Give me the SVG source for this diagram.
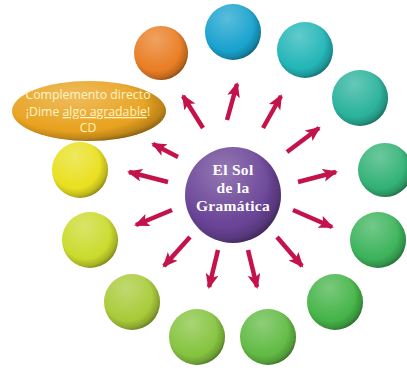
<svg xmlns="http://www.w3.org/2000/svg" width="407" height="368" viewBox="0 0 407 368">
<style>
.shade{fill:url(#shade)}
.hl{fill:url(#hl)}
.arr{stroke:#c4124b;stroke-width:4.5;fill:none;marker-end:url(#ah)}
.et{font-family:"Open Sans","Liberation Sans",sans-serif;font-size:12.3px;fill:#fff4c4;text-anchor:middle}
.ct{font-family:"Liberation Serif","DejaVu Serif",serif;font-weight:bold;font-size:15.5px;letter-spacing:0.3px;fill:#ffffff;text-anchor:middle}
</style>
<defs>
<radialGradient id="shade" cx="0.42" cy="0.4" r="0.62">
<stop offset="0.7" stop-color="#000" stop-opacity="0"/>
<stop offset="0.9" stop-color="#000" stop-opacity="0.18"/>
<stop offset="1" stop-color="#000" stop-opacity="0.38"/>
</radialGradient>
<radialGradient id="hl" cx="0.4" cy="0.25" r="0.55">
<stop offset="0" stop-color="#fff" stop-opacity="0.28"/>
<stop offset="1" stop-color="#fff" stop-opacity="0"/>
</radialGradient>
<marker id="ah" markerUnits="userSpaceOnUse" markerWidth="18" markerHeight="14" refX="13" refY="6.5" orient="auto">
<path d="M0,0 L15,6.5 L0,13 L3.5,6.5 Z" fill="#c4124b"/>
</marker>
</defs>
<g id="connectors">
<line class="arr" x1="203" y1="128" x2="183" y2="96"/>
<line class="arr" x1="227" y1="120" x2="237" y2="84"/>
<line class="arr" x1="263" y1="128" x2="281" y2="96"/>
<line class="arr" x1="287" y1="152" x2="319" y2="128"/>
<line class="arr" x1="298" y1="182" x2="336" y2="172"/>
<line class="arr" x1="293" y1="210" x2="332" y2="227"/>
<line class="arr" x1="277" y1="237" x2="302" y2="266"/>
<line class="arr" x1="248" y1="250" x2="257" y2="287"/>
<line class="arr" x1="218" y1="250" x2="209" y2="287"/>
<line class="arr" x1="190" y1="237" x2="164" y2="266"/>
<line class="arr" x1="172" y1="210" x2="136" y2="225"/>
<line class="arr" x1="168" y1="182" x2="129" y2="172"/>
<line class="arr" x1="178" y1="157" x2="153" y2="144"/>
</g>
<g id="n-orange"><circle cx="161" cy="53" r="27" fill="#e97e24"/><circle cx="161" cy="53" r="27" class="hl"/><circle cx="161" cy="53" r="27" class="shade"/></g>
<g id="n-blue"><circle cx="233" cy="32" r="28" fill="#1aa3cf"/><circle cx="233" cy="32" r="28" class="hl"/><circle cx="233" cy="32" r="28" class="shade"/></g>
<g id="n-teal1"><circle cx="305" cy="50" r="28" fill="#24b6b8"/><circle cx="305" cy="50" r="28" class="hl"/><circle cx="305" cy="50" r="28" class="shade"/></g>
<g id="n-teal2"><circle cx="360" cy="98" r="28" fill="#2bb39c"/><circle cx="360" cy="98" r="28" class="hl"/><circle cx="360" cy="98" r="28" class="shade"/></g>
<g id="n-green1"><circle cx="385" cy="170" r="27" fill="#34b377"/><circle cx="385" cy="170" r="27" class="hl"/><circle cx="385" cy="170" r="27" class="shade"/></g>
<g id="n-green2"><circle cx="378" cy="240" r="28" fill="#3db45c"/><circle cx="378" cy="240" r="28" class="hl"/><circle cx="378" cy="240" r="28" class="shade"/></g>
<g id="n-green3"><circle cx="335" cy="302" r="28" fill="#46b549"/><circle cx="335" cy="302" r="28" class="hl"/><circle cx="335" cy="302" r="28" class="shade"/></g>
<g id="n-green4"><circle cx="268" cy="337" r="28" fill="#62bb45"/><circle cx="268" cy="337" r="28" class="hl"/><circle cx="268" cy="337" r="28" class="shade"/></g>
<g id="n-green5"><circle cx="197" cy="337" r="28" fill="#86c440"/><circle cx="197" cy="337" r="28" class="hl"/><circle cx="197" cy="337" r="28" class="shade"/></g>
<g id="n-lime1"><circle cx="132" cy="302" r="28" fill="#a9cb3a"/><circle cx="132" cy="302" r="28" class="hl"/><circle cx="132" cy="302" r="28" class="shade"/></g>
<g id="n-lime2"><circle cx="90" cy="240" r="28" fill="#cbdb2e"/><circle cx="90" cy="240" r="28" class="hl"/><circle cx="90" cy="240" r="28" class="shade"/></g>
<g id="n-yellow"><circle cx="80" cy="170" r="28" fill="#e9e020"/><circle cx="80" cy="170" r="28" class="hl"/><circle cx="80" cy="170" r="28" class="shade"/></g>
<g id="n-cd">
<ellipse cx="89" cy="111" rx="77" ry="30" fill="#e8a21f"/>
<ellipse cx="89" cy="111" rx="77" ry="30" class="hl"/>
<ellipse cx="89" cy="111" rx="77" ry="30" class="shade"/>
<text class="et" x="88" y="99">Complemento directo</text>
<text class="et" x="88" y="116">¡Dime <tspan text-decoration="underline">algo agradable</tspan>!</text>
<text class="et" x="88" y="132">CD</text>
</g>
<g id="n-sol">
<circle cx="233" cy="195" r="48" fill="#6a4497"/>
<circle cx="233" cy="195" r="48" class="hl"/>
<circle cx="233" cy="195" r="48" class="shade"/>
<text class="ct" x="233" y="175">El Sol</text>
<text class="ct" x="233" y="193">de la</text>
<text class="ct" x="233" y="211">Gramática</text>
</g>
</svg>
